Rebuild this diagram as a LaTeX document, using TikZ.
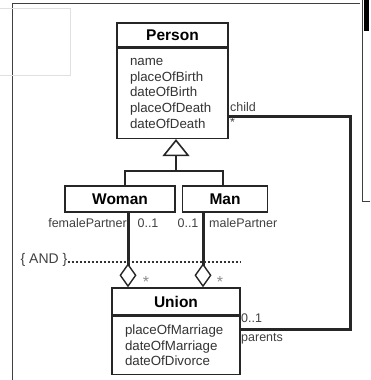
\documentclass[tikz,border=0pt]{standalone}
\usepackage{fontspec}
\setmainfont{Liberation Sans}
\usetikzlibrary{arrows.meta,positioning}
\tikzset{
  umltitle/.style={draw=black!85, line width=1.4pt, fill=white, inner sep=0pt,
    font=\fontsize{15.5}{17}\selectfont\bfseries},
  umlattr/.style={draw=black!85, line width=1.4pt, fill=white, align=left,
    inner xsep=13pt, inner ysep=0pt, text=black!80,
    font=\fontsize{13.3}{15.7}\selectfont},
  role/.style={inner sep=0pt, text=black!75, font=\fontsize{12.5}{14}\selectfont},
  frameline/.style={line width=1pt, black!75},
  assoc/.style={line width=3pt, black!85},
  agg/.style={assoc, -{Diamond[open, length=24pt, width=17pt, line width=1.4pt]}},
  gen/.style={line width=1.6pt, black!85, -{Triangle[open, length=17pt, width=27pt, line width=1.6pt]}}
}
\begin{document}
\begin{tikzpicture}[x=1pt, y=-1pt]
    \useasboundingbox (0,0) rectangle (370,380);

    \draw[frameline] (12,380) -- (12,3) -- (360,3);
    \draw[frameline] (362,0) -- (362,201) -- (370,201);
    \fill[black] (364,0) rectangle (369,31);
    \draw[black!12, line width=0.8pt] (0,8) -- (70,8) -- (70,75) -- (0,75);

    \node[umltitle, minimum width=111pt, minimum height=24pt] (person) at (172.5,35) {Person};
    \node[umlattr, anchor=north, text width=85pt, minimum height=90pt] (personattr) at (person.south)
        {name\\placeOfBirth\\dateOfBirth\\placeOfDeath\\dateOfDeath};

    \node[umltitle, minimum width=110pt, minimum height=26pt] (woman) at (120,199) {Woman};
    \node[umltitle, minimum width=85pt, minimum height=26pt] (man) at (225,199) {Man};

    \node[umltitle, minimum width=128pt, minimum height=27pt] (union) at (176,301.5) {Union};
    \node[umlattr, anchor=north, text width=102pt, minimum height=58pt] (unionattr) at (union.south)
        {placeOfMarriage\\dateOfMarriage\\dateOfDivorce};

    \coordinate (joint) at (176,171);
    \draw[line width=1.6pt, black!85] ([xshift=5pt]woman.north) |- (joint);
    \draw[line width=1.6pt, black!85] ([xshift=-2pt]man.north) |- (joint);
    \draw[gen] (joint) -- (personattr.south -| joint);

    \coordinate (wx) at (128,0);
    \coordinate (mx) at (203,0);
    \draw[agg] (woman.south -| wx) -- (union.north -| wx);
    \draw[agg] (man.south -| mx) -- (union.north -| mx);

    \node[role, anchor=east] (female) at (127,223) {femalePartner};
    \node[role] (wmult) at (148,223) {0..1};
    \node[role] (mmult) at (188,223) {0..1};
    \node[role, anchor=west] (male) at (209,223) {malePartner};
    \node[role, text=black!45, font=\fontsize{16}{16}\selectfont] (wstar) at (146,282) {*};
    \node[role, text=black!45, font=\fontsize{16}{16}\selectfont] (mstar) at (220,282) {*};

    \node[inner sep=0pt, text=black!75, font=\fontsize{14}{16}\selectfont] (and) at (44,260) {\{ AND \}};
    \coordinate (andend) at (240,262);
    \draw[line width=2.2pt, black!80, dash pattern=on 2.5pt off 1.5pt] (and.east |- andend) -- (andend);

    \coordinate (pcorner) at (350,329);
    \coordinate (ccorner) at (350,116);
    \draw[assoc] (unionattr.east |- pcorner) -- (pcorner) -- (ccorner) -- (personattr.east |- ccorner);
    \node[role, anchor=west] (pmult) at (241,318) {0..1};
    \node[role, anchor=west] (parents) at (241,339) {parents};
    \node[role, anchor=west] (child) at (230,107) {child};
    \node[role, anchor=west] (cstar) at (230,122) {*};
\end{tikzpicture}
\end{document}
